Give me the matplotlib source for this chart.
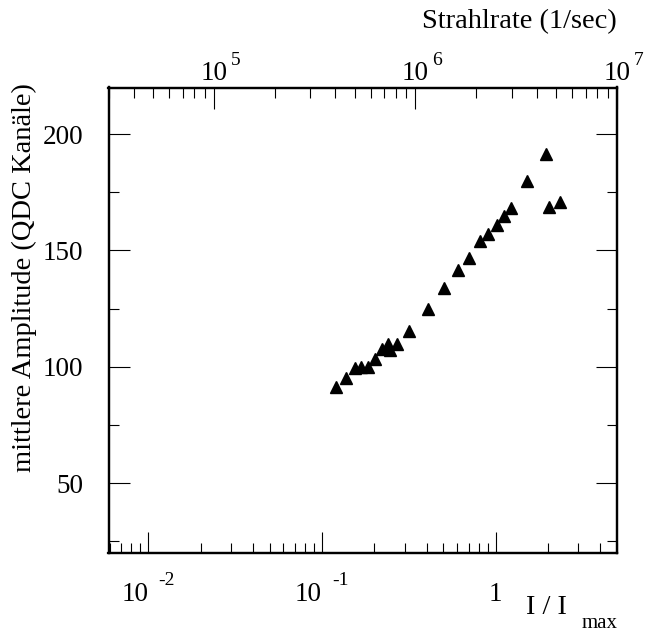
import numpy as np
import matplotlib
matplotlib.use('Agg')
import matplotlib.pyplot as plt
from matplotlib.ticker import FixedLocator, NullFormatter, MultipleLocator, LogLocator

plt.rcParams['font.family'] = ['Liberation Serif', 'DejaVu Serif']

""" datos """
i_rel = [0.120, 0.1375, 0.155, 0.168, 0.183, 0.202, 0.222, 0.239, 0.246, 0.270,
         0.318, 0.406, 0.504, 0.604, 0.699, 0.812, 0.906, 1.017, 1.121, 1.22,
         1.515, 1.94, 2.02, 2.35]
amplitude = [91.4, 95.0, 99.6, 100.0, 100.0, 103.2, 107.5, 109.6, 107.2, 109.7,
             115.4, 124.7, 134.0, 141.4, 146.7, 153.9, 157.2, 161.0, 164.7, 168.1,
             180.0, 191.4, 168.5, 171.0]

x_ticks = [0.01, 0.1, 1]
x_bases = ['10', '10', '1']
x_exps = ['-2', '-1', '']
top_ticks = [1e5, 1e6, 1e7]
top_bases = ['10', '10', '10']
top_exps = ['5', '6', '7']
y_ticks = [50, 100, 150, 200]

W, H = 647, 633
fs_tick = 19.5
fs_exp = 14
fs_lab = 20.5

""" graficar """
fig = plt.figure(figsize=(W / 100, H / 100), dpi=100)
ax = fig.add_axes([108.5 / W, 1 - 553 / H, (617 - 108.5) / W, (553 - 87.5) / H])

ax.plot(i_rel, amplitude, linestyle='none', marker='^', markersize=8.5,
        color='black')

ax.set_xscale('log')
ax.set_xlim(0.0059, 5)
ax.set_ylim(20, 220)

ax.xaxis.set_major_locator(FixedLocator(x_ticks))
ax.xaxis.set_major_formatter(NullFormatter())
ax.xaxis.set_minor_locator(LogLocator(base=10, subs=np.arange(2, 10)))
ax.xaxis.set_minor_formatter(NullFormatter())
ax.yaxis.set_major_locator(FixedLocator(y_ticks))
ax.yaxis.set_minor_locator(MultipleLocator(25))

ax.tick_params(which='both', direction='in', top=False, right=True, width=0.8)
ax.tick_params(which='major', length=15)
ax.tick_params(which='minor', length=7.5)
ax.tick_params(axis='y', labelsize=fs_tick, pad=18)

for s in ax.spines.values():
    s.set_linewidth(1.6)

# etiquetas del eje inferior (estilo ROOT: base + exponente)
for t, b, e in zip(x_ticks, x_bases, x_exps):
    if e:
        ax.annotate(b, xy=(t, 0), xycoords=('data', 'axes fraction'),
                    xytext=(0, -34.6), textcoords='offset points',
                    ha='right', va='baseline', fontsize=fs_tick)
        ax.annotate(e, xy=(t, 0), xycoords=('data', 'axes fraction'),
                    xytext=(7.2, -23), textcoords='offset points',
                    ha='left', va='baseline', fontsize=fs_exp)
    else:
        ax.annotate(b, xy=(t, 0), xycoords=('data', 'axes fraction'),
                    xytext=(0, -34.6), textcoords='offset points',
                    ha='center', va='baseline', fontsize=fs_tick)

# eje superior
ax2 = ax.twiny()
ax2.set_xscale('log')
ax2.set_xlim(3e4, 1e7)
ax2.xaxis.set_major_locator(FixedLocator(top_ticks))
ax2.xaxis.set_major_formatter(NullFormatter())
ax2.xaxis.set_minor_locator(LogLocator(base=10, subs=np.arange(2, 10)))
ax2.xaxis.set_minor_formatter(NullFormatter())
ax2.tick_params(which='both', direction='in', width=0.8)
ax2.tick_params(which='major', length=15)
ax2.tick_params(which='minor', length=7.5)
for s in ax2.spines.values():
    s.set_linewidth(1.6)

for t, b, e in zip(top_ticks, top_bases, top_exps):
    ax2.annotate(b, xy=(t, 1), xycoords=('data', 'axes fraction'),
                 xytext=(0, 5.4), textcoords='offset points',
                 ha='center', va='baseline', fontsize=fs_tick, annotation_clip=False)
    ax2.annotate(e, xy=(t, 1), xycoords=('data', 'axes fraction'),
                 xytext=(12.2, 16.2), textcoords='offset points',
                 ha='left', va='baseline', fontsize=fs_exp, annotation_clip=False)

# títulos de ejes
fig.text(617 / W, 1 - 28 / H, 'Strahlrate (1/sec)', ha='right', va='baseline',
         fontsize=fs_lab)
fig.text(37 / W, 1 - 83 / H, 'mittlere Amplitude (QDC Kanäle)', rotation=90,
         ha='right', va='top', fontsize=fs_lab)
fig.text(567 / W, 1 - 614 / H, 'I / I', ha='right', va='baseline', fontsize=fs_lab)
fig.text(618 / W, 1 - 628 / H, 'max', ha='right', va='baseline', fontsize=15)

plt.savefig('out.png', dpi=100)
